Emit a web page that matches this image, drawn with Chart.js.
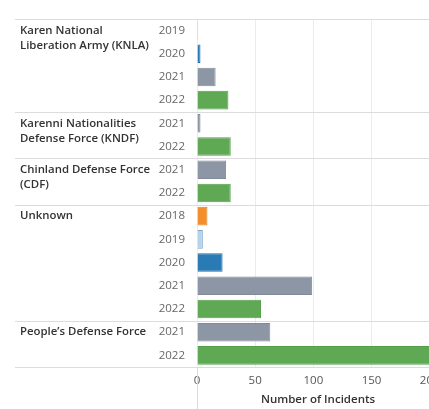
<!DOCTYPE html>
<html>
<head>
<meta charset="utf-8">
<script src="https://cdn.jsdelivr.net/npm/chart.js@4"></script>
<style>
  html, body { margin: 0; padding: 0; background: #fff; overflow: hidden; }
  #wrap { width: 450px; height: 409px; }
</style>
</head>
<body>
<div id="wrap"><canvas id="myChart" width="450" height="409"></canvas></div>
<script>
// data
var groupNames = [
    ['Karen National', 'Liberation Army (KNLA)'],
    ['Karenni Nationalities', 'Defense Force (KNDF)'],
    ['Chinland Defense Force', '(CDF)'],
    ['Unknown'],
    ['People\u2019s Defense Force']
];
var groupYears = [
    [2019, 2020, 2021, 2022],
    [2021, 2022],
    [2021, 2022],
    [2018, 2019, 2020, 2021, 2022],
    [2021, 2022]
];
var groupIncidents = [
    [1, 3, 16, 27],
    [3, 29],
    [25, 29],
    [9, 5, 22, 99, 55],
    [63, 205]
];
var xTicks = [0, 50, 100, 150, 200];

var yearColors = {
    2018: '#f28e2b',
    2019: '#b4d4ec',
    2020: '#2a7ab6',
    2021: '#8c96a4',
    2022: '#5fa955'
};
var yearBorders = {
    2018: '#e07f22',
    2019: '#7fa6c8',
    2020: '#256ea6',
    2021: '#808a98',
    2022: '#56a04c'
};

// flatten rows for the category axis
var labels = [], years = [], values = [], rowGroup = [];
groupYears.forEach(function (ys, g) {
    ys.forEach(function (y, i) {
        labels.push('g' + g + '-' + y);
        years.push(y);
        values.push(groupIncidents[g][i]);
        rowGroup.push(g);
    });
});

var groupPlugin = {
    id: 'groups',
    afterDraw: function (chart) {
        var ctx = chart.ctx;
        var yScale = chart.scales.y;
        var xScale = chart.scales.x;
        var area = chart.chartArea;
        var W = chart.width;
        var half = (yScale.getPixelForValue(1) - yScale.getPixelForValue(0)) / 2;
        ctx.save();
        // separator lines
        ctx.strokeStyle = '#dcdcdc';
        ctx.lineWidth = 1;
        var lines = [area.top, area.bottom];
        for (var i = 1; i < labels.length; i++) {
            if (rowGroup[i] !== rowGroup[i - 1]) {
                lines.push(Math.round(yScale.getPixelForValue(i) - half));
            }
        }
        lines.forEach(function (y) {
            ctx.beginPath();
            ctx.moveTo(15, Math.round(y) + 0.5);
            ctx.lineTo(W, Math.round(y) + 0.5);
            ctx.stroke();
        });
        // zero line continuing through the axis area
        var x0 = Math.round(xScale.getPixelForValue(0)) + 0.5;
        ctx.beginPath();
        ctx.moveTo(x0, area.bottom);
        ctx.lineTo(x0, chart.height);
        ctx.stroke();
        // group names
        ctx.fillStyle = '#333';
        ctx.font = '600 11.4px "Open Sans"';
        ctx.textBaseline = 'middle';
        ctx.textAlign = 'left';
        var first = 0;
        groupNames.forEach(function (name, g) {
            var yc = yScale.getPixelForValue(first);
            name.forEach(function (line, k) {
                ctx.fillText(line, 20, yc + k * 15);
            });
            first += groupYears[g].length;
        });
        ctx.restore();
    }
};

var ctx = document.getElementById('myChart').getContext('2d');
var chart = new Chart(ctx, {
    type: 'bar',
    data: {
        labels: labels,
        datasets: [{
            data: values,
            backgroundColor: years.map(function (y) { return yearColors[y]; }),
            borderColor: years.map(function (y) { return yearBorders[y]; }),
            borderWidth: 1,
            barPercentage: 0.8,
            categoryPercentage: 1.0
        }]
    },
    options: {
        indexAxis: 'y',
        responsive: false,
        animation: false,
        devicePixelRatio: 1,
        layout: { padding: { top: 10, right: 11, left: 0, bottom: 0 } },
        plugins: {
            legend: { display: false },
            tooltip: { enabled: false }
        },
        scales: {
            x: {
                min: 0,
                max: 208,
                afterBuildTicks: function (s) {
                    s.ticks = xTicks.map(function (v) { return { value: v }; });
                },
                afterFit: function (s) { s.height = 42; },
                grid: { color: '#ececec', drawTicks: false },
                border: { display: false },
                ticks: {
                    padding: 7,
                    color: '#555',
                    font: { family: 'Open Sans', size: 11.5 }
                },
                title: {
                    display: true,
                    text: 'Number of Incidents',
                    color: '#333',
                    padding: { top: 4, bottom: 2 },
                    font: { family: 'Open Sans', size: 11.5, weight: '600' }
                }
            },
            y: {
                afterFit: function (s) { s.width = 197; },
                grid: { display: false, drawTicks: false },
                border: { display: false },
                ticks: {
                    padding: 12,
                    color: '#666',
                    font: { family: 'Open Sans', size: 11.5 },
                    callback: function (v, i) { return String(years[i]); }
                }
            }
        }
    },
    plugins: [groupPlugin]
});
</script>
</body>
</html>
